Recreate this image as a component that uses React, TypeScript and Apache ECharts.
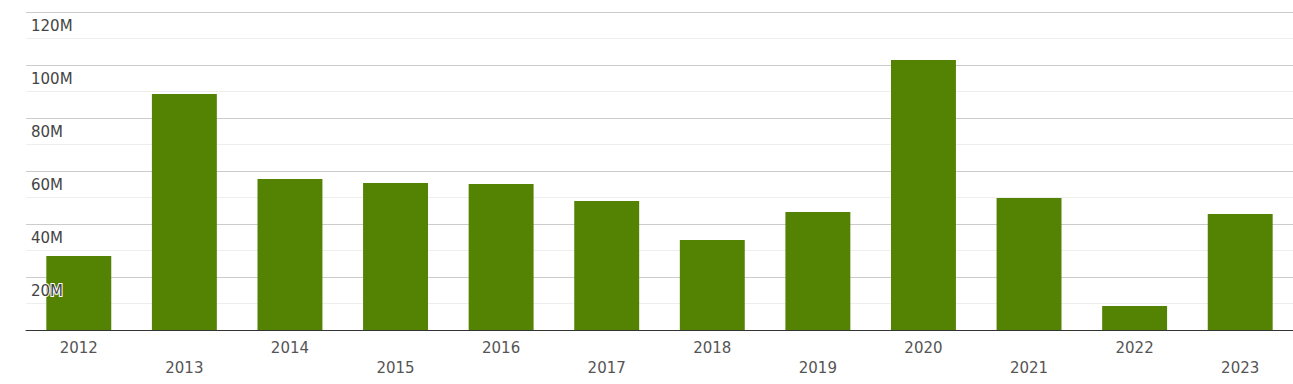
import React, { useEffect, useRef } from "react";
import * as echarts from "echarts";

const years = ["2012", "2013", "2014", "2015", "2016", "2017", "2018", "2019", "2020", "2021", "2022", "2023"];
const values = [27.9e6, 89.1e6, 57.0e6, 55.5e6, 55.1e6, 48.7e6, 34.0e6, 44.5e6, 101.9e6, 49.8e6, 9.1e6, 43.8e6];

const fmt = (v: number) => (v === 0 ? "" : `${Math.round(v / 1e6)}M`);

export default function App() {
  const ref = useRef<HTMLDivElement>(null);
  useEffect(() => {
    const chart = echarts.init(ref.current!, undefined, { renderer: "svg" });
    const yBase = { type: "value", min: 0, max: 120e6, interval: 20e6 };
    chart.setOption({
      animation: false,
      grid: { left: 26, right: 0, top: 12, bottom: 54 },
      xAxis: {
        type: "category",
        data: years,
        axisLine: { lineStyle: { color: "#333", width: 1 } },
        axisTick: { show: false },
        axisLabel: {
          interval: 0,
          color: "#555",
          fontSize: 15,
          fontFamily: "DejaVu Sans",
          lineHeight: 20,
          margin: 8,
          formatter: (v: string, i: number) => (i % 2 ? "\n" + v : v),
        },
      },
      yAxis: [
        {
          ...yBase,
          z: 0,
          axisLine: { show: false },
          axisTick: { show: false },
          axisLabel: { show: false },
          splitLine: { lineStyle: { color: "#ccc", width: 1 } },
          minorTick: { show: false, splitNumber: 2 },
          minorSplitLine: { show: true, lineStyle: { color: "#eee", width: 1 } },
        },
        {
          ...yBase,
          position: "left",
          z: 10,
          axisLine: { show: false },
          axisTick: { show: false },
          splitLine: { show: false },
          axisLabel: {
            inside: true,
            margin: 5,
            align: "left",
            verticalAlign: "top",
            padding: [6, 0, 0, 0],
            color: "#444",
            fontSize: 15,
            fontFamily: "DejaVu Sans",
            textBorderColor: "#fff",
            textBorderWidth: 2,
            formatter: fmt,
          },
        },
      ],
      series: [
        {
          type: "bar",
          data: values,
          yAxisIndex: 0,
          barWidth: "61.5%",
          itemStyle: { color: "#548203" },
          z: 2,
        },
      ],
    });
    return () => chart.dispose();
  }, []);
  return <div ref={ref} style={{ width: 1293, height: 384, position: "absolute", left: 0, top: 0 }} />;
}
